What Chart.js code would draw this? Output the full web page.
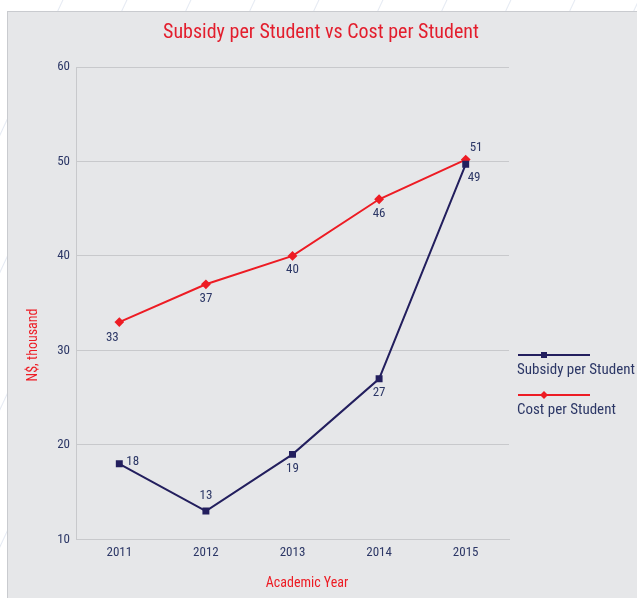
<!DOCTYPE html>
<html>
<head>
<meta charset="utf-8">
<script src="https://cdn.jsdelivr.net/npm/chart.js@4.4.0/dist/chart.umd.min.js"></script>
<style>
    html, body {
        margin: 0;
        padding: 0;
        width: 637px;
        height: 598px;
        overflow: hidden;
        background: #fff repeating-linear-gradient(115deg, #fff 0, #fff 56px, #e4e9f2 57px, #fff 58px);
    }
    #panel {
        position: absolute;
        left: 7px;
        top: 11px;
        width: 630px;
        height: 587px;
        background: #e6e7e9;
        border-left: 1px solid #c9cbcf;
        border-top: 1px solid #c9cbcf;
    }
    #wrap {
        position: absolute;
        left: 0;
        top: 0;
        width: 637px;
        height: 598px;
    }
</style>
</head>
<body>
<div id="panel"></div>
<div id="wrap"><canvas id="chart"></canvas></div>
<script>
// Subsidy vs Cost per Student - Chart.js

const years = ['2011', '2012', '2013', '2014', '2015'];
const subsidy = [18, 13, 19, 27, 49.7];
const cost = [33, 37, 40, 46, 50.2];
const subsidyLabels = ['18', '13', '19', '27', '49'];
const costLabels = ['33', '37', '40', '46', '51'];
const yTicks = [10, 20, 30, 40, 50, 60];

const chartTitle = 'Subsidy per Student vs Cost per Student';
const yTitle = 'N$, thousand';
const xTitle = 'Academic Year';

const NAVY = '#231f5e';
const RED = '#ed1c24';
const TEXT = '#2c3766';
const FONT = "'Liberation Sans Narrow', 'Roboto Condensed', Roboto, sans-serif";

// where each value label sits relative to its point
const subsidyPlace = ['right', 'above', 'below', 'below', 'belowRight'];
const costPlace = ['belowLeft', 'below', 'below', 'below', 'aboveRight'];

const valueLabels = {
    id: 'valueLabels',
    afterDatasetsDraw(chart) {
        const ctx = chart.ctx;
        ctx.save();
        ctx.font = '13px ' + FONT;
        ctx.fillStyle = TEXT;
        ctx.textBaseline = 'middle';
        chart.data.datasets.forEach((ds, i) => {
            const meta = chart.getDatasetMeta(i);
            meta.data.forEach((pt, j) => {
                const where = ds.place[j];
                let dx = 0, dy = 0, align = 'center';
                if (where === 'right') { dx = 7; dy = -2; align = 'left'; }
                if (where === 'above') { dy = -15; }
                if (where === 'below') { dy = 14; }
                if (where === 'belowRight') { dx = 2; dy = 13; align = 'left'; }
                if (where === 'belowLeft') { dx = -7; dy = 16; }
                if (where === 'aboveRight') { dx = 4; dy = -12; align = 'left'; }
                ctx.textAlign = align;
                ctx.fillText(ds.valueText[j], pt.x + dx, pt.y + dy);
            });
        });
        ctx.restore();
    }
};

// titles placed like in the original layout
const titles = {
    id: 'titles',
    afterDraw(chart) {
        const ctx = chart.ctx;
        ctx.save();
        ctx.textAlign = 'center';
        ctx.textBaseline = 'middle';
        ctx.fillStyle = '#e31e2d';
        ctx.font = '20px ' + FONT;
        ctx.fillText(chartTitle, 321, 33);
        ctx.fillStyle = RED;
        ctx.font = '14px ' + FONT;
        ctx.fillText(xTitle, 307, 583);
        ctx.translate(33, 345);
        ctx.rotate(-Math.PI / 2);
        ctx.fillText(yTitle, 0, 0);
        ctx.restore();
    }
};

// legend with the line on top and the text below it
const sideLegend = {
    id: 'sideLegend',
    afterDraw(chart) {
        const ctx = chart.ctx;
        const x0 = chart.chartArea.right + 9;
        let y = 355;
        ctx.save();
        chart.data.datasets.forEach((ds) => {
            ctx.strokeStyle = ds.borderColor;
            ctx.lineWidth = 2;
            ctx.beginPath();
            ctx.moveTo(x0, y);
            ctx.lineTo(x0 + 72, y);
            ctx.stroke();
            ctx.fillStyle = ds.borderColor;
            const mx = x0 + 26;
            if (ds.pointStyle === 'rectRot') {
                ctx.beginPath();
                ctx.moveTo(mx, y - 4);
                ctx.lineTo(mx + 4, y);
                ctx.lineTo(mx, y + 4);
                ctx.lineTo(mx - 4, y);
                ctx.closePath();
                ctx.fill();
            } else {
                ctx.fillRect(mx - 3, y - 3, 6, 6);
            }
            ctx.font = '15px ' + FONT;
            ctx.fillStyle = TEXT;
            ctx.textAlign = 'left';
            ctx.textBaseline = 'middle';
            ctx.fillText(ds.label, x0 - 1, y + 15);
            y += 40;
        });
        ctx.restore();
    }
};

new Chart(document.getElementById('chart'), {
    type: 'line',
    data: {
        labels: years,
        datasets: [{
            label: 'Subsidy per Student',
            data: subsidy,
            valueText: subsidyLabels,
            place: subsidyPlace,
            borderColor: NAVY,
            backgroundColor: NAVY,
            borderWidth: 2,
            pointStyle: 'rect',
            pointRadius: 3.5,
            tension: 0
        }, {
            label: 'Cost per Student',
            data: cost,
            valueText: costLabels,
            place: costPlace,
            borderColor: RED,
            backgroundColor: RED,
            borderWidth: 2,
            pointStyle: 'rectRot',
            pointRadius: 3.5,
            tension: 0
        }]
    },
    options: {
        responsive: true,
        maintainAspectRatio: false,
        animation: false,
        layout: {
            padding: { top: 67, left: 50, right: 128, bottom: 31 }
        },
        plugins: {
            legend: { display: false },
            tooltip: { enabled: false },
            title: { display: false }
        },
        scales: {
            y: {
                min: 10,
                max: 60,
                afterBuildTicks(scale) {
                    scale.ticks = yTicks.map(v => ({ value: v }));
                },
                afterFit(scale) {
                    scale.width = 26;
                },
                ticks: {
                    color: TEXT,
                    font: { family: FONT, size: 13 },
                    padding: 6
                },
                grid: { color: '#c8c9cc', drawTicks: false },
                border: { color: '#c8c9cc' }
            },
            x: {
                offset: true,
                ticks: {
                    color: TEXT,
                    font: { family: FONT, size: 13 },
                    padding: 6
                },
                grid: { display: false, drawTicks: false },
                border: { color: '#c8c9cc' }
            }
        }
    },
    plugins: [valueLabels, titles, sideLegend]
});
</script>
</body>
</html>
